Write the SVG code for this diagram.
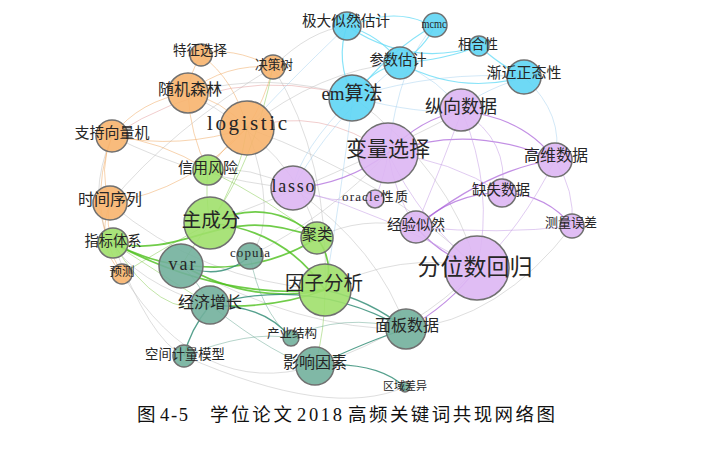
<svg xmlns="http://www.w3.org/2000/svg" width="706" height="450" viewBox="0 0 706 450">
<style>
.e{fill:none;stroke-width:1}
.en{stroke:#bdbdbd;opacity:.5}
.er{stroke:#e09090;opacity:.45}
.eo{stroke:#f0a860;opacity:.5}
.eg{stroke:#4cbf1c;stroke-width:1.7;opacity:.8}
.egl{stroke:#8fd060;opacity:.55}
.et{stroke:#2a8870;stroke-width:1.3;opacity:.8}
.etl{stroke:#5aa08a;opacity:.45}
.ec{stroke:#6adcf6;stroke-width:1.2;opacity:.8}
.ecl{stroke:#a6d2f0;opacity:.5}
.ep{stroke:#a860d8;stroke-width:1.2;opacity:.7}
.epl{stroke:#c6a0e6;opacity:.55}
circle{stroke:#707070;stroke-width:1.5;fill-opacity:.9}
.o circle{fill:#f7b46e}
.g circle{fill:#a0e06c}
.t circle{fill:#72b09c}
.c circle{fill:#5ed5f4}
.p circle{fill:#ddb6f3}
text{font-family:"Liberation Serif","Noto Sans CJK SC",serif;fill:#262626;text-anchor:middle}
.cap{font-family:"Liberation Serif","Noto Sans CJK SC",serif;fill:#111;text-anchor:start;font-size:18.5px}
</style>
<rect width="706" height="450" fill="#fff"/>
<g id="connectors">
<path class="e en" d="M247 128 Q 390 180 477 268"/>
<path class="e en" d="M353 97 Q 450 170 477 268"/>
<path class="e en" d="M112 136 Q 200 180 293 188"/>
<path class="e en" d="M188 93 Q 270 70 353 97"/>
<path class="e en" d="M273 67 Q 310 30 347 26"/>
<path class="e en" d="M247 128 Q 320 70 400 63"/>
<path class="e en" d="M208 170 Q 250 165 293 188"/>
<path class="e en" d="M110 203 Q 200 280 325 290"/>
<path class="e en" d="M112 136 Q 60 260 210 305"/>
<path class="e en" d="M122 274 Q 200 400 315 366"/>
<path class="e en" d="M113 243 Q 150 340 184 356"/>
<path class="e en" d="M210 223 Q 330 180 462 111"/>
<path class="e en" d="M293 188 Q 380 250 406 329"/>
<path class="e en" d="M247 128 Q 280 220 250 256"/>
<path class="e en" d="M182 265 Q 300 330 406 329"/>
<path class="e en" d="M317 238 Q 360 215 416 227"/>
<path class="e en" d="M325 290 Q 400 250 477 268"/>
<path class="e en" d="M315 366 Q 420 330 477 268"/>
<path class="e en" d="M406 329 Q 500 320 572 226"/>
<path class="e en" d="M250 256 Q 330 215 388 153"/>
<path class="e en" d="M188 93 Q 300 150 317 238"/>
<path class="e en" d="M273 67 Q 330 160 325 290"/>
<path class="e en" d="M110 203 Q 170 130 273 67"/>
<path class="e en" d="M184 356 Q 330 420 405 387"/>
<path class="e er" d="M247 128 Q 320 105 388 153"/>
<path class="e er" d="M112 136 Q 230 60 353 97"/>
<path class="e ecl" d="M353 97 Q 300 150 293 188"/>
<path class="e ecl" d="M400 63 Q 330 120 293 188"/>
<path class="e ecl" d="M347 26 Q 280 90 247 128"/>
<path class="e ecl" d="M524 77 Q 470 95 462 111"/>
<path class="e ecl" d="M353 97 Q 420 115 462 111"/>
<path class="e ecl" d="M388 153 Q 400 60 435 25"/>
<path class="e ecl" d="M524 77 Q 565 115 555 160"/>
<path class="e ecl" d="M353 97 Q 440 70 524 77"/>
<path class="e ecl" d="M400 63 Q 440 80 462 111"/>
<path class="e ecl" d="M353 97 Q 340 200 325 290"/>
<path class="e eo" d="M188 93 Q 225 63 273 67"/>
<path class="e eo" d="M188 93 Q 190 72 201 55"/>
<path class="e eo" d="M188 93 Q 222 100 247 128"/>
<path class="e eo" d="M188 93 Q 140 100 112 136"/>
<path class="e eo" d="M112 136 Q 98 170 110 203"/>
<path class="e eo" d="M110 203 Q 105 225 113 243"/>
<path class="e eo" d="M112 136 Q 180 150 247 128"/>
<path class="e eo" d="M110 203 Q 190 190 247 128"/>
<path class="e eo" d="M273 67 Q 265 100 247 128"/>
<path class="e eo" d="M201 55 Q 235 80 247 128"/>
<path class="e eo" d="M247 128 Q 225 145 208 170"/>
<path class="e eo" d="M188 93 Q 190 135 208 170"/>
<path class="e eo" d="M112 136 Q 160 140 208 170"/>
<path class="e eo" d="M110 203 Q 95 245 122 274"/>
<path class="e eo" d="M112 136 Q 85 210 122 274"/>
<path class="e eo" d="M201 55 Q 230 45 273 67"/>
<path class="e egl" d="M247 128 Q 240 180 210 223"/>
<path class="e egl" d="M273 67 Q 255 160 210 223"/>
<path class="e egl" d="M208 170 Q 205 195 210 223"/>
<path class="e egl" d="M210 223 Q 190 250 182 265"/>
<path class="e egl" d="M208 170 Q 270 200 317 238"/>
<path class="e egl" d="M113 243 Q 160 320 210 305"/>
<path class="e egl" d="M122 274 Q 160 250 210 223"/>
<path class="e eg" d="M210 223 Q 270 195 317 238"/>
<path class="e eg" d="M210 223 Q 285 230 325 290"/>
<path class="e eg" d="M317 238 Q 335 262 325 290"/>
<path class="e eg" d="M113 243 C 190 260 220 200 317 238"/>
<path class="e eg" d="M113 243 Q 220 300 325 290"/>
<path class="e eg" d="M182 265 Q 250 305 325 290"/>
<path class="e eg" d="M182 265 Q 260 275 317 238"/>
<path class="e eg" d="M210 305 Q 270 310 325 290"/>
<path class="e eg" d="M113 243 Q 150 262 182 265"/>
<path class="e egl" d="M113 243 Q 170 280 210 305"/>
<path class="e egl" d="M325 290 Q 325 330 315 366"/>
<path class="e et" d="M325 290 Q 370 300 406 329"/>
<path class="e et" d="M182 265 Q 220 282 250 256"/>
<path class="e et" d="M210 305 Q 265 305 291 338"/>
<path class="e et" d="M210 305 Q 190 330 184 356"/>
<path class="e et" d="M315 366 Q 375 360 405 387"/>
<path class="e et" d="M315 366 Q 370 340 406 329"/>
<path class="e et" d="M210 305 Q 310 275 406 329"/>
<path class="e etl" d="M291 338 Q 340 312 406 329"/>
<path class="e etl" d="M182 265 Q 200 285 210 305"/>
<path class="e etl" d="M210 305 Q 280 360 315 366"/>
<path class="e etl" d="M184 356 Q 250 330 291 338"/>
<path class="e etl" d="M250 256 Q 260 310 291 338"/>
<path class="e ec" d="M347 26 Q 335 60 353 97"/>
<path class="e ec" d="M347 26 Q 380 35 400 63"/>
<path class="e ec" d="M435 25 Q 425 48 400 63"/>
<path class="e ec" d="M435 25 Q 390 50 353 97"/>
<path class="e ec" d="M400 63 Q 460 95 524 77"/>
<path class="e ec" d="M347 26 Q 410 68 479 46"/>
<path class="e ec" d="M479 46 Q 500 65 524 77"/>
<path class="e ec" d="M353 97 Q 370 70 400 63"/>
<path class="e ec" d="M361 22 Q 395 10 424 22"/>
<path class="e ec" d="M400 63 Q 445 60 479 46"/>
<path class="e ep" d="M293 188 Q 345 185 388 153"/>
<path class="e ep" d="M388 153 Q 420 118 462 111"/>
<path class="e ep" d="M388 153 Q 470 122 555 160"/>
<path class="e ep" d="M462 111 Q 525 118 555 160"/>
<path class="e ep" d="M416 227 Q 455 192 502 193"/>
<path class="e ep" d="M416 227 Q 440 255 477 268"/>
<path class="e ep" d="M502 193 Q 545 193 572 226"/>
<path class="e ep" d="M477 268 Q 450 305 406 329"/>
<path class="e ep" d="M416 227 Q 490 168 555 160"/>
<path class="e epl" d="M388 153 Q 420 220 477 268"/>
<path class="e epl" d="M293 188 Q 390 215 477 268"/>
<path class="e epl" d="M462 111 Q 495 190 477 268"/>
<path class="e epl" d="M388 153 Q 395 195 416 227"/>
<path class="e epl" d="M388 153 Q 450 160 502 193"/>
<path class="e epl" d="M462 111 Q 510 140 502 193"/>
<path class="e epl" d="M462 111 Q 440 170 416 227"/>
<path class="e epl" d="M555 160 Q 575 190 572 226"/>
<path class="e epl" d="M555 160 Q 520 230 477 268"/>
<path class="e epl" d="M375 199 Q 385 175 388 153"/>
<path class="e epl" d="M293 188 Q 330 205 375 199"/>
<path class="e epl" d="M416 227 Q 500 235 572 226"/>
</g>
<g id="n-tezheng" class="o"><circle cx="201" cy="55" r="11"/><text x="200" y="55" font-size="13.5">特征选择</text></g>
<g id="n-juece" class="o"><circle cx="273" cy="67" r="12"/><text x="274" y="69" font-size="12.7">决策树</text></g>
<g id="n-suiji" class="o"><circle cx="188" cy="93" r="20"/><text x="190" y="95" font-size="16">随机森林</text></g>
<g id="n-logistic" class="o"><circle cx="247" cy="128" r="27"/><text x="247" y="130" font-size="21" textLength="80" lengthAdjust="spacing">logistic</text></g>
<g id="n-zhichi" class="o"><circle cx="112" cy="136" r="16"/><text x="112" y="138" font-size="15">支持向量机</text></g>
<g id="n-shijian" class="o"><circle cx="110" cy="203" r="17"/><text x="110" y="205" font-size="16">时间序列</text></g>
<g id="n-yuce" class="o"><circle cx="122" cy="274" r="10"/><text x="122" y="276" font-size="12.5">预测</text></g>
<g id="n-xinyong" class="g"><circle cx="208" cy="170" r="15"/><text x="208" y="173" font-size="15">信用风险</text></g>
<g id="n-zhucheng" class="g"><circle cx="210" cy="223" r="26"/><text x="211" y="227" font-size="19.5">主成分</text></g>
<g id="n-zhibiao" class="g"><circle cx="113" cy="243" r="15"/><text x="113" y="246" font-size="14.3">指标体系</text></g>
<g id="n-julei" class="g"><circle cx="317" cy="238" r="16"/><text x="317" y="240" font-size="15.5">聚类</text></g>
<g id="n-yinzi" class="g"><circle cx="325" cy="290" r="26"/><text x="324" y="290" font-size="19.5">因子分析</text></g>
<g id="n-var" class="t"><circle cx="181" cy="266" r="22"/><text x="182" y="270" font-size="18" textLength="27" lengthAdjust="spacing">var</text></g>
<g id="n-copula" class="t"><circle cx="250" cy="256" r="13"/><text x="250" y="257" font-size="13" textLength="40" lengthAdjust="spacing">copula</text></g>
<g id="n-jingji" class="t"><circle cx="210" cy="305" r="19"/><text x="210" y="308" font-size="16">经济增长</text></g>
<g id="n-chanye" class="t"><circle cx="291" cy="338" r="8"/><text x="292" y="338" font-size="12.5">产业结构</text></g>
<g id="n-kongjian" class="t"><circle cx="184" cy="356" r="11"/><text x="185" y="359" font-size="13.3">空间计量模型</text></g>
<g id="n-yingxiang" class="t"><circle cx="315" cy="366" r="19"/><text x="315" y="368" font-size="16">影响因素</text></g>
<g id="n-mianban" class="t"><circle cx="406" cy="329" r="20"/><text x="407" y="331" font-size="16">面板数据</text></g>
<g id="n-quyu" class="t"><circle cx="405" cy="387" r="5"/><text x="405" y="390" font-size="11">区域差异</text></g>
<g id="n-jida" class="c"><circle cx="347" cy="26" r="14"/><text x="346" y="26" font-size="14.7">极大似然估计</text></g>
<g id="n-mcmc" class="c"><circle cx="435" cy="25" r="12"/><text x="434" y="28" font-size="12" textLength="25" lengthAdjust="spacingAndGlyphs">mcmc</text></g>
<g id="n-xianghe" class="c"><circle cx="479" cy="46" r="10"/><text x="478" y="49" font-size="13.3">相合性</text></g>
<g id="n-canshu" class="c"><circle cx="400" cy="63" r="16"/><text x="398" y="65" font-size="14.3">参数估计</text></g>
<g id="n-em" class="c"><circle cx="352" cy="98" r="23"/><text x="352" y="100" font-size="19">em算法</text></g>
<g id="n-jianjin" class="c"><circle cx="524" cy="77" r="17"/><text x="524" y="78" font-size="15">渐近正态性</text></g>
<g id="n-zongxiang" class="p"><circle cx="461" cy="110" r="21"/><text x="461" y="113" font-size="18">纵向数据</text></g>
<g id="n-bianliang" class="p"><circle cx="388" cy="153" r="30"/><text x="388" y="156" font-size="21">变量选择</text></g>
<g id="n-lasso" class="p"><circle cx="293" cy="188" r="22"/><text x="293" y="192" font-size="18" textLength="43" lengthAdjust="spacing">lasso</text></g>
<g id="n-oracle" class="p"><circle cx="375" cy="199" r="9"/><text x="375" y="201" font-size="13" textLength="66" lengthAdjust="spacing">oracle性质</text></g>
<g id="n-gaowei" class="p"><circle cx="555" cy="160" r="17"/><text x="556" y="161" font-size="16">高维数据</text></g>
<g id="n-queshi" class="p"><circle cx="502" cy="193" r="14"/><text x="501" y="195" font-size="14.5">缺失数据</text></g>
<g id="n-jingyan" class="p"><circle cx="416" cy="227" r="16"/><text x="416" y="230" font-size="14.5">经验似然</text></g>
<g id="n-celiang" class="p"><circle cx="572" cy="226" r="12"/><text x="571" y="227" font-size="13">测量误差</text></g>
<g id="n-fenwei" class="p"><circle cx="477" cy="268" r="32"/><text x="475" y="275" font-size="23">分位数回归</text></g>
<g id="caption">
<text class="cap" x="137" y="421">图</text>
<text class="cap" x="160" y="421" textLength="28" lengthAdjust="spacing">4-5</text>
<text class="cap" x="210" y="421" textLength="82" lengthAdjust="spacing">学位论文</text>
<text class="cap" x="297" y="421" textLength="45" lengthAdjust="spacing">2018</text>
<text class="cap" x="348" y="421" textLength="207" lengthAdjust="spacing">高频关键词共现网络图</text>
</g>
</svg>
